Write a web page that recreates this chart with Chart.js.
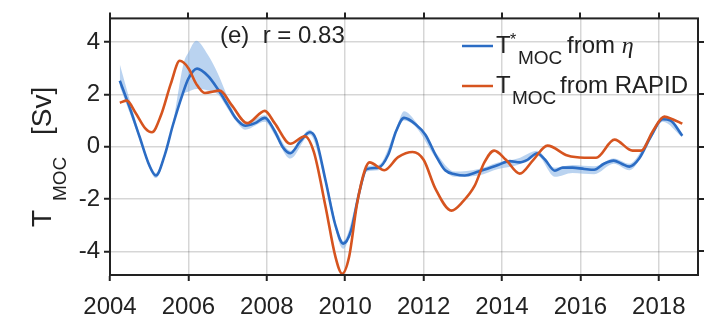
<!DOCTYPE html>
<html>
<head>
<meta charset="utf-8">
<script src="https://cdn.jsdelivr.net/npm/chart.js@4.4.0/dist/chart.umd.min.js"></script>
<style>
  html, body { margin: 0; padding: 0; background: #fff; }
  canvas { display: block; }
</style>
</head>
<body>
<canvas id="mocChart" width="720" height="326"></canvas>
<script>
// T*_MOC reconstructed from eta (blue) and T_MOC from RAPID (orange), in Sv
var etaYears = [2004.25, 2004.5, 2004.75, 2005.0, 2005.17, 2005.4, 2005.6, 2005.85, 2006.0, 2006.22,
  2006.5, 2006.75, 2007.0, 2007.2, 2007.45, 2007.7, 2007.95, 2008.2, 2008.4, 2008.6,
  2008.85, 2009.1, 2009.25, 2009.5, 2009.75, 2009.95, 2010.15, 2010.35, 2010.55, 2010.85,
  2011.1, 2011.3, 2011.5, 2011.8, 2012.05, 2012.3, 2012.55, 2012.8, 2013.05, 2013.4,
  2013.9, 2014.2, 2014.45, 2014.65, 2014.9, 2015.1, 2015.35, 2015.55, 2015.8, 2016.1,
  2016.35, 2016.6, 2016.85, 2017.05, 2017.25, 2017.5, 2017.8, 2018.1, 2018.3, 2018.6];
var etaMoc = [2.52, 1.5, 0.4, -0.7, -1.1, -0.3, 0.8, 2.0, 2.6, 2.98,
  2.7, 2.2, 1.6, 1.1, 0.8, 0.9, 1.1, 0.6, 0.0, -0.25,
  0.2, 0.55, 0.3, -1.3, -3.0, -3.7, -3.2, -1.8, -0.85, -0.8,
  -0.3, 0.6, 1.1, 0.85, 0.45, -0.3, -0.9, -1.05, -1.1, -0.95,
  -0.7, -0.55, -0.6, -0.5, -0.25, -0.5, -0.92, -0.8, -0.8, -0.85,
  -0.88, -0.65, -0.53, -0.65, -0.76, -0.45, 0.4, 1.05, 1.0, 0.42];

var rapidYears = [2004.25, 2004.43, 2004.65, 2004.9, 2005.07, 2005.3, 2005.55, 2005.78, 2006.0, 2006.2,
  2006.42, 2006.8, 2007.1, 2007.5, 2007.95, 2008.2, 2008.6, 2008.97, 2009.2, 2009.5,
  2009.75, 2009.92, 2010.1, 2010.3, 2010.5, 2010.62, 2011.0, 2011.35, 2011.72, 2012.0,
  2012.3, 2012.71, 2013.0, 2013.3, 2013.55, 2013.8, 2014.1, 2014.45, 2014.8, 2015.16,
  2015.67, 2016.1, 2016.4, 2016.87, 2017.33, 2017.55, 2017.85, 2018.14, 2018.35, 2018.6];
var rapidMoc = [1.68, 1.76, 1.3, 0.7, 0.55, 1.2, 2.4, 3.28, 3.0, 2.4,
  2.05, 2.14, 1.6, 0.9, 1.37, 0.9, 0.11, 0.4, -0.2, -2.3,
  -4.2, -4.85, -4.2, -2.2, -0.9, -0.6, -0.9, -0.4, -0.2, -0.5,
  -1.6, -2.44, -2.1, -1.5, -0.6, -0.15, -0.5, -1.03, -0.5, 0.04,
  -0.34, -0.42, -0.42, 0.27, -0.15, -0.15, 0.6, 1.15, 1.05, 0.88];

// uncertainty envelope around the eta estimate
var bandYears = [2004.25, 2004.5, 2004.75, 2005.0, 2005.17, 2005.4, 2005.6, 2005.88, 2006.0, 2006.2,
  2006.5, 2006.75, 2007.0, 2007.2, 2007.45, 2007.95, 2008.2, 2008.6, 2009.1, 2009.5,
  2009.95, 2010.35, 2010.55, 2010.85, 2011.3, 2011.5, 2011.8, 2012.3, 2012.8, 2013.4,
  2013.9, 2014.4, 2014.9, 2015.35, 2015.8, 2016.35, 2016.85, 2017.25, 2017.8, 2018.1, 2018.6];
var bandUpper = [3.15, 1.8, 0.5, -0.6, -1.0, -0.2, 0.9, 3.2, 3.6, 4.05,
  3.5, 2.8, 1.9, 1.2, 0.9, 1.2, 0.7, -0.15, 0.65, -1.2,
  -3.6, -1.7, -0.75, -0.7, 0.7, 1.35, 0.95, -0.2, -0.95, -0.85,
  -0.6, -0.45, -0.15, -0.8, -0.7, -0.75, -0.45, -0.65, 0.5, 1.15, 0.5];
var bandLower = [2.3, 1.3, 0.3, -0.8, -1.2, -0.4, 0.7, 2.0, 2.1, 2.2,
  2.15, 2.0, 1.45, 1.0, 0.65, 0.95, 0.45, -0.45, 0.45, -1.4,
  -3.9, -1.9, -0.95, -0.9, 0.5, 1.0, 0.75, -0.4, -1.15, -1.1,
  -0.85, -0.7, -0.35, -1.15, -1.0, -1.05, -0.65, -0.9, 0.3, 0.95, 0.35];

var xTicks = [2004, 2006, 2008, 2010, 2012, 2014, 2016, 2018];
var yTicks = [-4, -2, 0, 2, 4];

var blue = '#2b6cc4';
var orange = '#d6541f';
var ink = '#222';
var sans = '"Liberation Sans", Arial, sans-serif';

function pts(xs, ys) {
  return xs.map(function (x, i) { return { x: x, y: ys[i] }; });
}

// box, mirrored ticks, annotation, legend and axis title
var decorations = {
  id: 'decorations',
  afterDraw: function (chart) {
    var ctx = chart.ctx, a = chart.chartArea;
    var xs = chart.scales.x, ys = chart.scales.y;
    ctx.save();
    ctx.strokeStyle = ink;
    ctx.lineWidth = 2;
    ctx.strokeRect(a.left, a.top, a.right - a.left, a.bottom - a.top);
    ctx.beginPath();
    xTicks.forEach(function (v) {
      var px = Math.round(xs.getPixelForValue(v));
      ctx.moveTo(px, a.top); ctx.lineTo(px, a.top - 6);
    });
    yTicks.forEach(function (v) {
      var py = Math.round(ys.getPixelForValue(v));
      ctx.moveTo(a.right, py); ctx.lineTo(a.right + 6, py);
    });
    ctx.stroke();

    ctx.fillStyle = ink;
    ctx.textBaseline = 'alphabetic';
    ctx.textAlign = 'left';
    ctx.font = '24px ' + sans;
    ctx.fillText('(e)  r = 0.83', 220, 43);

    // legend
    ctx.lineWidth = 2.5;
    ctx.strokeStyle = blue;
    ctx.beginPath(); ctx.moveTo(462, 46); ctx.lineTo(493, 46); ctx.stroke();
    ctx.strokeStyle = orange;
    ctx.beginPath(); ctx.moveTo(462, 86); ctx.lineTo(493, 86); ctx.stroke();

    ctx.font = '24px ' + sans;
    ctx.fillText('T', 496, 53);
    ctx.font = '16px ' + sans;
    ctx.fillText('*', 510, 45);
    ctx.font = '19px ' + sans;
    ctx.fillText('MOC', 518, 64);
    ctx.font = '24px ' + sans;
    ctx.fillText('from ', 567, 53);
    var w = ctx.measureText('from ').width;
    ctx.font = 'italic 24px "Liberation Serif", "DejaVu Serif", serif';
    ctx.fillText('\u03B7', 567 + w, 53);

    ctx.font = '24px ' + sans;
    ctx.fillText('T', 496, 93);
    ctx.font = '19px ' + sans;
    ctx.fillText('MOC', 512, 104);
    ctx.font = '24px ' + sans;
    ctx.fillText('from RAPID', 560, 93);

    // rotated y-axis title
    ctx.translate(51, 227);
    ctx.rotate(-Math.PI / 2);
    ctx.font = '28px ' + sans;
    ctx.fillText('T', 0, 0);
    ctx.font = '19px ' + sans;
    ctx.fillText('MOC', 26, 15);
    ctx.font = '28px ' + sans;
    ctx.fillText('[Sv]', 92, 0);
    ctx.restore();
  }
};

var ctx = document.getElementById('mocChart').getContext('2d');

var mocChart = new Chart(ctx, {
  type: 'line',
  data: {
    datasets: [
      {
        label: 'band upper',
        data: pts(bandYears, bandUpper),
        borderWidth: 0,
        pointRadius: 0,
        backgroundColor: 'rgba(130,175,228,0.55)',
        fill: '+1',
        cubicInterpolationMode: 'monotone',
        order: 3
      },
      {
        label: 'band lower',
        data: pts(bandYears, bandLower),
        borderWidth: 0,
        pointRadius: 0,
        fill: false,
        cubicInterpolationMode: 'monotone',
        order: 4
      },
      {
        label: 'T*MOC from eta',
        data: pts(etaYears, etaMoc),
        borderColor: blue,
        borderWidth: 2.6,
        pointRadius: 0,
        fill: false,
        cubicInterpolationMode: 'monotone',
        order: 1
      },
      {
        label: 'TMOC from RAPID',
        data: pts(rapidYears, rapidMoc),
        borderColor: orange,
        borderWidth: 2.6,
        pointRadius: 0,
        fill: false,
        cubicInterpolationMode: 'monotone',
        order: 0
      }
    ]
  },
  options: {
    responsive: false,
    animation: false,
    events: [],
    layout: { padding: { left: 0, right: 22, top: 18, bottom: 0 } },
    plugins: {
      legend: { display: false },
      tooltip: { enabled: false },
      title: { display: false }
    },
    scales: {
      x: {
        type: 'linear',
        min: 2004,
        max: 2019,
        afterBuildTicks: function (s) {
          s.ticks = xTicks.map(function (v) { return { value: v }; });
        },
        afterFit: function (s) { s.height = 51; },
        ticks: {
          color: ink,
          font: { size: 24, family: sans },
          padding: 12,
          maxRotation: 0,
          callback: function (v) { return String(v); }
        },
        grid: { color: 'rgba(0,0,0,0.16)', lineWidth: 1.5, tickColor: ink, tickLength: 6, tickWidth: 2 },
        border: { display: true, color: ink, width: 2 }
      },
      y: {
        min: -4.9,
        max: 4.9,
        afterBuildTicks: function (s) {
          s.ticks = yTicks.map(function (v) { return { value: v }; });
        },
        afterFit: function (s) { s.width = 110; },
        ticks: {
          color: ink,
          font: { size: 24, family: sans },
          padding: 4
        },
        grid: { color: 'rgba(0,0,0,0.16)', lineWidth: 1.5, tickColor: ink, tickLength: 6, tickWidth: 2 },
        border: { display: true, color: ink, width: 2 }
      }
    }
  },
  plugins: [decorations]
});
</script>
</body>
</html>
